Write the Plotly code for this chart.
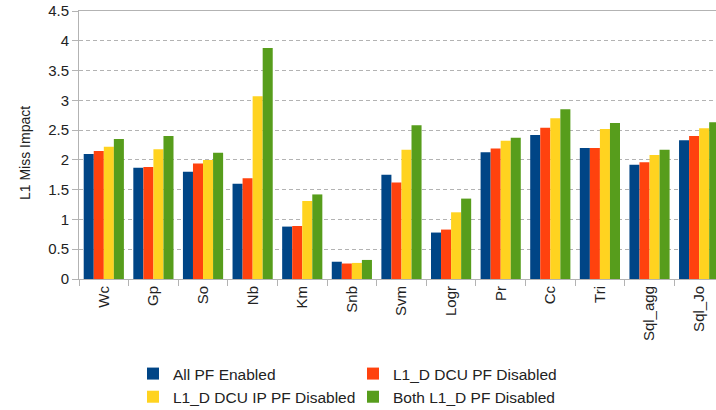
import plotly.graph_objects as go

# Benchmarks on the category axis
categories = ["Wc", "Gp", "So", "Nb", "Km", "Snb", "Svm", "Logr", "Pr", "Cc", "Tri", "Sql_agg", "Sql_Jo"]

# L1 miss impact per prefetcher configuration
all_pf_enabled = [2.10, 1.87, 1.80, 1.60, 0.88, 0.29, 1.75, 0.78, 2.13, 2.42, 2.20, 1.92, 2.33]
dcu_pf_disabled = [2.15, 1.88, 1.94, 1.69, 0.89, 0.26, 1.62, 0.83, 2.19, 2.54, 2.20, 1.96, 2.40]
dcu_ip_pf_disabled = [2.22, 2.18, 2.00, 3.07, 1.31, 0.27, 2.17, 1.12, 2.32, 2.70, 2.52, 2.08, 2.53]
both_pf_disabled = [2.35, 2.40, 2.12, 3.88, 1.42, 0.32, 2.58, 1.35, 2.37, 2.85, 2.62, 2.17, 2.63]

series_names = ["All PF Enabled", "L1_D DCU PF Disabled", "L1_D DCU IP PF Disabled", "Both L1_D PF Disabled"]
series_values = [all_pf_enabled, dcu_pf_disabled, dcu_ip_pf_disabled, both_pf_disabled]
series_colors = ["#004586", "#ff420e", "#ffd320", "#579d1c"]
# two legend columns: left column holds series 0 and 2, right column 1 and 3
series_legends = ["legend", "legend2", "legend", "legend2"]

FONT = "Liberation Sans, Arial, sans-serif"
TEXT = "#222222"
GRID = "#b3b3b3"

W, H = 716, 410
ML, MR, MT, MB = 79, 0, 11, 131
PW, PH = W - ML - MR, H - MT - MB


def px_to_paper_x(px):
    return (px - ML) / PW


def px_to_paper_y(py):
    return (H - MB - py) / PH


fig = go.Figure()
for name, vals, color, lg in zip(series_names, series_values, series_colors, series_legends):
    fig.add_trace(go.Bar(
        x=categories, y=vals, name=name,
        marker=dict(color=color, line=dict(width=0)),
        legend=lg,
    ))

legend_common = dict(
    orientation="v",
    xanchor="left", yanchor="top",
    font=dict(family=FONT, size=15.5, color=TEXT),
    bgcolor="rgba(0,0,0,0)",
    itemwidth=30,
    tracegroupgap=0,
)

fig.update_layout(
    width=W, height=H,
    margin=dict(l=ML, r=MR, t=MT, b=MB, autoexpand=False),
    paper_bgcolor="white", plot_bgcolor="white",
    barmode="group", bargap=0.19, bargroupgap=0,
    font=dict(family=FONT, size=14, color=TEXT),
    showlegend=True,
    legend=dict(x=px_to_paper_x(133), y=px_to_paper_y(357), **legend_common),
    legend2=dict(x=px_to_paper_x(353), y=px_to_paper_y(357), **legend_common),
    xaxis=dict(
        range=[-0.5, 12.34],
        tickangle=-90,
        tickson="boundaries",
        ticks="outside", ticklen=6, tickcolor=GRID,
        showline=True, linecolor=GRID, linewidth=1, mirror=True,
        showgrid=False,
        tickfont=dict(family=FONT, size=15, color=TEXT),
        automargin=False,
    ),
    yaxis=dict(
        range=[0, 4.5],
        dtick=0.5,
        ticks="outside", ticklen=6, tickcolor=GRID,
        showline=True, linecolor=GRID, linewidth=1,
        showgrid=True, gridcolor=GRID, griddash="4px,3px", gridwidth=1,
        zeroline=False,
        tickfont=dict(family=FONT, size=15, color=TEXT),
        automargin=False,
    ),
)

# y-axis title, placed as an annotation so it can sit slightly below the plot centre
fig.add_annotation(
    text="L1 Miss Impact",
    xref="paper", yref="paper",
    x=px_to_paper_x(25), y=px_to_paper_y(153),
    xanchor="center", yanchor="middle",
    textangle=-90, showarrow=False,
    font=dict(family=FONT, size=14, color=TEXT),
)

fig.write_html("out.html")
